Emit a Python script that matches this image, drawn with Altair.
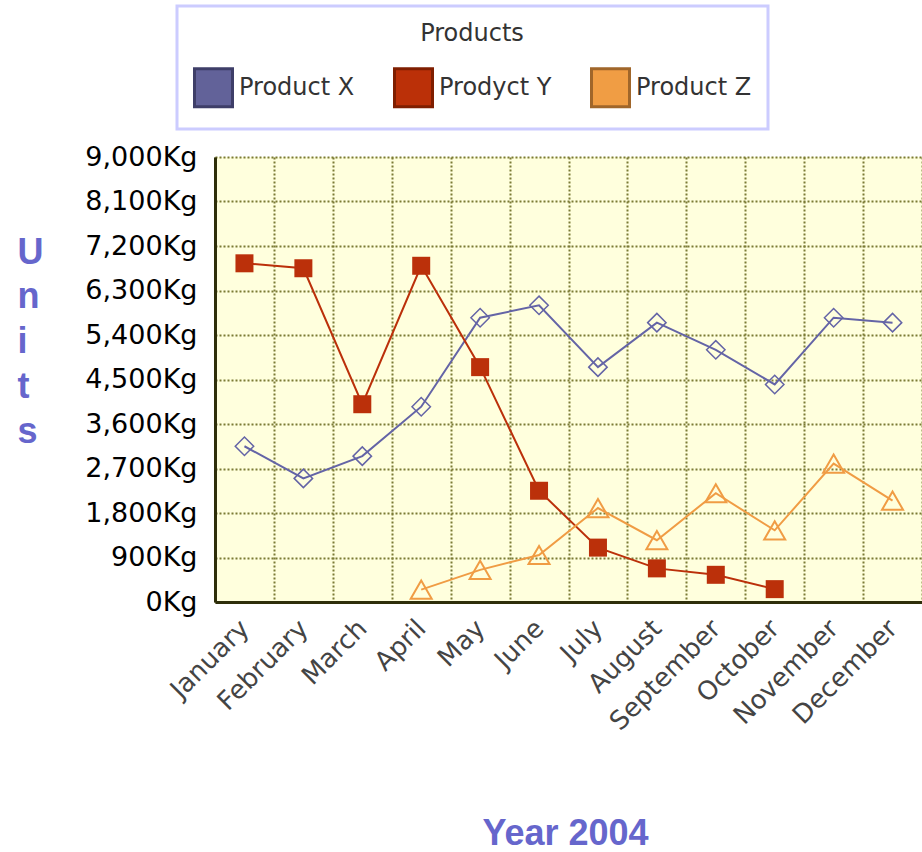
import altair as alt
import pandas as pd

months = ["January", "February", "March", "April", "May", "June", "July",
          "August", "September", "October", "November", "December"]
products = ["Product X", "Prodyct Y", "Product Z"]
product_x = [3150, 2500, 2950, 3950, 5750, 6000, 4750, 5650, 5100, 4400, 5750, 5650]
product_y = [6850, 6750, 4000, 6800, 4750, 2250, 1100, 680, 550, 260, None, None]
product_z = [None, None, None, 250, 650, 950, 1900, 1250, 2200, 1450, 2800, 2050]
y_ticks = list(range(0, 9001, 900))

line_colors = ["#6464A6", "#BB300A", "#F09C44"]
swatch_fill = ["#626299", "#BB3008", "#F09D44"]
swatch_edge = ["#3E3E68", "#7F1E00", "#A0662A"]

rows = []
for name, vals in zip(products, [product_x, product_y, product_z]):
    for i, (m, v) in enumerate(zip(months, vals)):
        if v is not None:
            rows.append({"month": m, "idx": i, "product": name, "value": v})
df = pd.DataFrame(rows)

grid_color = "#7B7B35"
domain_color = "#2E2E0A"

x_enc = alt.X(
    "month:N", sort=months, bandPosition=0.5,
    scale=alt.Scale(type="band", paddingInner=0, paddingOuter=0),
    axis=alt.Axis(
        title="Year 2004", labelAngle=-45, labelAlign="right", labelBaseline="middle",
        labelPadding=22, labelFont="DejaVu Sans", labelFontSize=26, labelColor="#444444",
        labelOverlap=False, labelLimit=400, ticks=False, grid=True, tickBand="extent",
        gridColor=grid_color, gridDash=[2, 2], gridWidth=2,
        domainColor=domain_color, domainWidth=3,
        titleFont="Liberation Sans", titleFontSize=36, titleFontWeight="bold",
        titleColor="#6666CC", titleX=350, titleY=242, titleAlign="center",
        titleBaseline="alphabetic",
    ),
)
y_enc = alt.Y(
    "value:Q",
    scale=alt.Scale(domain=[0, 9000], nice=False, zero=True),
    axis=alt.Axis(
        title=["U", "n", "i", "t", "s"], values=y_ticks,
        labelExpr="format(datum.value, ',') + 'Kg'",
        labelFont="DejaVu Sans", labelFontSize=27, labelColor="#000000",
        labelPadding=18, ticks=False, grid=True,
        gridColor=grid_color, gridDash=[2, 2], gridWidth=2,
        domainColor=domain_color, domainWidth=3,
        titleFont="Liberation Sans", titleFontSize=36, titleFontWeight="bold",
        titleColor="#6666CC", titleAngle=0, titleAlign="left", titleBaseline="alphabetic",
        titleX=-198, titleY=106, titleLineHeight=44.75,
    ),
)

base = alt.Chart(df).encode(x=x_enc, y=y_enc)

leg = alt.Legend(
    title="Products", orient="none", legendX=-38, legendY=-151, direction="horizontal",
    symbolType="square", symbolSize=1444, symbolStrokeWidth=3, symbolOpacity=1,
    labelFont="DejaVu Sans", labelFontSize=24, labelColor="#333333", labelOffset=5,
    titleFont="DejaVu Sans", titleFontSize=24, titleFontWeight="normal",
    titleColor="#333333", titleAnchor="middle", titlePadding=21,
    columnPadding=33, padding=16, fillColor="#FFFFFF", strokeColor="#CCCCFF",
)

legend_layer = base.mark_square(opacity=0, size=1).encode(
    fill=alt.Fill("product:N", scale=alt.Scale(domain=products, range=swatch_fill), legend=leg),
    stroke=alt.Stroke("product:N", scale=alt.Scale(domain=products, range=swatch_edge), legend=leg),
)

lines = base.mark_line(strokeWidth=2).encode(
    color=alt.Color("product:N", scale=alt.Scale(domain=products, range=line_colors), legend=None),
    order=alt.Order("idx:Q"),
)

pts_x = base.transform_filter(alt.datum.product == products[0]).mark_point(
    shape="diamond", size=340, filled=False, strokeWidth=1.5, color=line_colors[0], opacity=1)
pts_y = base.transform_filter(alt.datum.product == products[1]).mark_square(
    size=324, color=line_colors[1], opacity=1)
pts_z = base.transform_filter(alt.datum.product == products[2]).mark_point(
    shape="triangle-up", size=441, filled=False, strokeWidth=2, color=line_colors[2], opacity=1)

chart = alt.layer(legend_layer, lines, pts_x, pts_y, pts_z).properties(
    width=707, height=445,
    autosize=alt.AutoSizeParams(type="none"),
    padding={"left": 215, "top": 157, "right": 0, "bottom": 250},
    background="white",
).configure_view(fill="#FFFFDD", stroke=None).configure_legend(strokeWidth=3)

chart.save("out.html", embed_options={"renderer": "svg", "actions": False})
